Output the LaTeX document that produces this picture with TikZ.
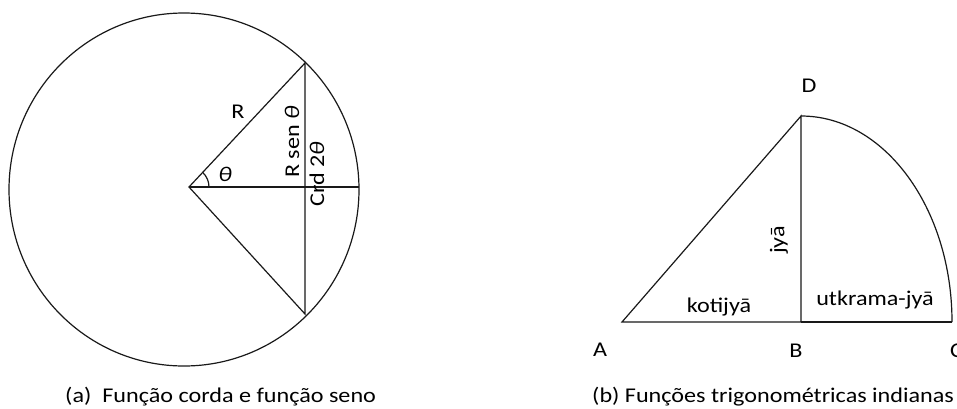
\documentclass[tikz,border=0pt]{standalone}
\usepackage{fontspec}
\setmainfont{Carlito}[FakeStretch=1.15]
\begin{document}
\begin{tikzpicture}[x=1pt,y=-1pt,
  geo/.style={line width=1.2pt,black!90},
  lbl/.style={font=\fontsize{21}{23}\selectfont,inner sep=0pt},
  captxt/.style={font=\fontsize{21}{23}\selectfont,inner sep=0pt,anchor=base west}]
\useasboundingbox (0,0) rectangle (957,408);
% ---- (a)
\coordinate (Oc) at (184,189.5);
\coordinate (O) at (189,187);
\coordinate (P) at (305,63);
\coordinate (Q) at (305,314);
\coordinate (E) at (359,187);
\draw[geo] (Oc) ellipse[x radius=175,y radius=176.5];
\draw[geo] (O) -- (P) -- (Q) -- cycle;
\draw[geo] (O) -- (E);
\draw[geo] ([xshift=20pt]O) arc[start angle=0,end angle=-47,radius=20];
\node[lbl] (R) at (238,112) {R};
\node[lbl] (th) at (225,174) {\itshape θ};
\node[lbl,rotate=90] (rs) at (292,142) {R sen {\itshape θ}};
\node[lbl,rotate=90] (crd) at (317,174) {Crd 2{\itshape θ}};
\node[captxt] (capa) at (65,402) {(a)\ \ Função corda e função seno};
% ---- (b)
\coordinate (A) at (622,322);
\coordinate (B) at (801,322);
\coordinate (C) at (952,322);
\coordinate (D) at (801,116);
\draw[geo] (A) -- (D) -- (B) -- cycle;
\draw[geo] (B) -- (C);
\draw[geo] (D) arc[start angle=-90,end angle=0,x radius=151,y radius=206];
\node[lbl] (lA) at (600,350) {A};
\node[lbl] (lB) at (796,351) {B};
\node[lbl,anchor=west] (lC) at (950,351) {C};
\node[lbl] (lD) at (809,86) {D};
\node[lbl,anchor=base] (kot) at (719,312) {kotijyā};
\node[lbl,anchor=base] (utk) at (875,305) {utkrama-jyā};
\node[lbl,rotate=90] (jya) at (779,240) {jyā};
\node[captxt] (capb) at (592,402) {(b) Funções trigonométricas indianas};
\end{tikzpicture}
\end{document}
